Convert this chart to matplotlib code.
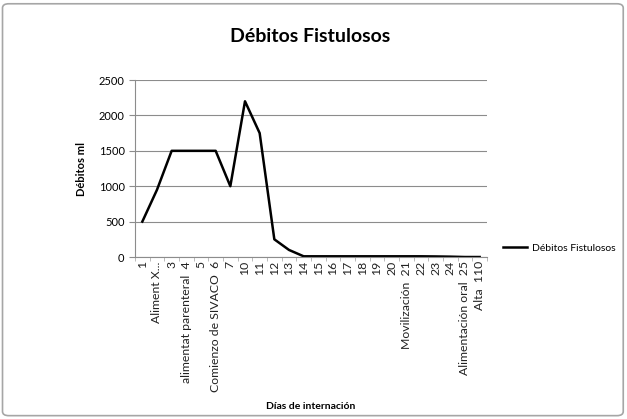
import matplotlib.pyplot as plt
from matplotlib.patches import FancyBboxPatch
import numpy as np

plt.rcParams['font.family'] = ['Lato', 'DejaVu Sans']

# data
dias = ['1', 'Aliment X...', '3', 'alimentat parenteral  4', '5',
        'Comienzo de SIVACO  6', '7', '10', '11', '12', '13', '14', '15',
        '16', '17', '18', '19', '20', 'Movilización  21', '22', '23', '24',
        'Alimentación oral  25', 'Alta  110']
debitos = [500, 950, 1500, 1500, 1500, 1500, 1000, 2200, 1750, 250, 100, 10,
           10, 10, 10, 10, 10, 10, 10, 10, 8, 5, 0, 0]
y_ticks = [0, 500, 1000, 1500, 2000, 2500]

fig = plt.figure(figsize=(6.27, 4.19), dpi=100)

# chart frame
frame = FancyBboxPatch((0.004, 0.008), 0.99, 0.983, boxstyle='round,pad=0,rounding_size=0.01',
                       transform=fig.transFigure, facecolor='none',
                       edgecolor='#a6a6a6', linewidth=1.2, zorder=-1)
fig.patches.append(frame)

ax = fig.add_axes([0.2153, 0.3866, 0.5614, 0.4224])
ax.patch.set_alpha(0)
x = np.arange(len(dias))
ax.plot(x, debitos, color='black', linewidth=1.8, label='Débitos Fistulosos')

ax.set_xlim(-0.5, len(dias) - 0.5)
ax.set_ylim(0, 2500)
ax.set_yticks(y_ticks)
ax.yaxis.grid(True, color='#8c8c8c', linewidth=0.8)
ax.set_axisbelow(True)

ax.set_xticks(x)
ax.set_xticklabels(dias, rotation=90, fontsize=8.8, color='#222222')
ax.set_xticks(np.arange(-0.5, len(dias)), minor=True)
ax.tick_params(axis='x', which='major', length=0, pad=3)
ax.tick_params(axis='x', which='minor', length=3, color='#b0b0b0')
ax.tick_params(axis='y', length=4, color='#8c8c8c', labelsize=8)

for s in ['top', 'right']:
    ax.spines[s].set_visible(False)
for s in ['left', 'bottom']:
    ax.spines[s].set_color('#8c8c8c')

ax.set_ylabel('Débitos ml', fontsize=8, fontweight='bold', labelpad=8)
fig.text(0.495, 0.025, 'Días de internación', fontsize=7.5, fontweight='bold', ha='center')
fig.text(0.495, 0.9, 'Débitos Fistulosos', fontsize=14, fontweight='bold', ha='center')

ax.legend(loc='center left', bbox_to_anchor=(1.02, 0.05), frameon=False,
          fontsize=7.5, handlelength=2.3, handletextpad=0.4)

fig.savefig('out.png', dpi=100)
